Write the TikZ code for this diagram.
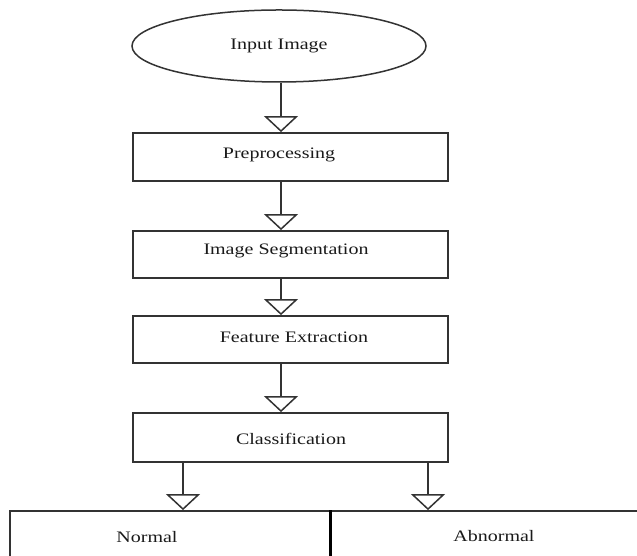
\documentclass[tikz,border=0pt]{standalone}
\usepackage{fontspec}
\setmainfont{Liberation Serif}[FakeStretch=1.25]
\usetikzlibrary{arrows.meta,shapes.geometric}
\definecolor{edge}{HTML}{333333}
\definecolor{ink}{HTML}{1A1A1A}
\begin{document}
\begin{tikzpicture}[x=1pt,y=1pt,
  txt/.style={font=\fontsize{16}{19}\selectfont, text=ink},
  box/.style={draw=edge, line width=1.8pt, minimum width=315pt, minimum height=48pt, inner sep=0pt},
  arr/.style={draw=edge, line width=1.8pt, -{Triangle[open, width=34pt, length=16pt, line width=1.5pt]}}]
\useasboundingbox (0,0) rectangle (637,556);
\clip (0,0) rectangle (637,556);
\fill[white] (0,0) rectangle (637,556);
\coordinate (ax) at (281,0);
\coordinate (bl) at (183,0);
\coordinate (br) at (428,0);
\node[ellipse, draw=edge, line width=1.5pt, minimum width=294pt, minimum height=72pt, inner sep=0pt, txt] (input) at (279,510) {Input Image};
\node[box, label={[txt, xshift=-11.5pt, yshift=2pt]center:Preprocessing}] (pre) at (290.5,399) {};
\node[box, minimum height=47pt, label={[txt, xshift=-4.5pt, yshift=4pt]center:Image Segmentation}] (seg) at (290.5,301.5) {};
\node[box, minimum height=47pt, label={[txt, xshift=3.5pt, yshift=2.5pt]center:Feature Extraction}] (feat) at (290.5,216.5) {};
\node[box, minimum height=49pt, label={[txt, xshift=0.5pt, yshift=-1.5pt]center:Classification}] (cls) at (290.5,118.5) {};
\node[draw=edge, line width=1.8pt, minimum width=320pt, minimum height=65pt, inner sep=0pt, label={[txt, xshift=-23pt, yshift=6.5pt]center:Normal}] (normal) at (170,12.5) {};
\node[draw=edge, line width=1.8pt, minimum width=330pt, minimum height=65pt, inner sep=0pt, label={[txt, xshift=-1pt, yshift=7.5pt]center:Abnormal}] (abnormal) at (495,12.5) {};
\draw[black, line width=3pt] (normal.north east) -- (normal.south east);
\draw[arr] (input.south -| ax) -- (pre.north -| ax);
\draw[arr] (pre.south -| ax) -- (seg.north -| ax);
\draw[arr] (seg.south -| ax) -- (feat.north -| ax);
\draw[arr] (feat.south -| ax) -- (cls.north -| ax);
\draw[arr] (cls.south -| bl) -- (normal.north -| bl);
\draw[arr] (cls.south -| br) -- (abnormal.north -| br);
\end{tikzpicture}
\end{document}
